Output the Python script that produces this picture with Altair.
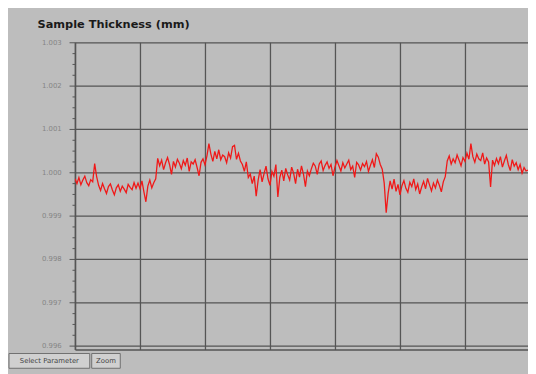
import altair as alt
import pandas as pd

# deviation from 1.000 mm, in units of 0.0001 mm left to right
dev_e4 = [
    -1.5, -2.6, -1.2, -2.9, -1.8, -0.9, -2.4, -3.1, -1.7, -2.2, 2.0, -1.0,
    -3.0, -4.2, -2.6, -3.8, -4.9, -3.3, -2.7, -4.1, -5.2, -3.6, -2.9, -4.4, -3.2, -3.9, -4.7, -2.8, -3.5, -4.0, -2.4, -3.7,
    -2.5, -3.8, -2.0, -4.5, -6.8, -3.2, -1.8, -3.6, -2.4, -1.5,
    3.2, 1.5, 2.8, 0.6, 2.2, 3.4, 1.8, -0.5, 2.5, 1.2, 3.0, 2.1, 0.8, 2.7, 1.6, 3.3, 0.2, 2.4, 1.9, 2.9, 1.1, -0.8, 2.3, 3.1, 1.7,
    3.8, 6.6, 4.2, 2.5, 4.8, 3.1, 5.2, 2.9, 4.0, 3.6, 2.2, 4.5, 3.3, 5.9, 6.2, 3.0, 4.4, 2.6,
    1.8, 0.2, 2.4, -1.2, -0.4, -2.6, -0.9,
    -5.5, -1.8, 0.6, -2.2, -0.3, 1.4, -1.5, -3.0, 0.2, -0.9, 1.8, -5.7, -1.2, 0.5, -2.0, 0.9, -0.6, -1.8, 1.2, -0.2, -2.6, 0.7, -1.1, 1.5, -0.4, -3.3, 0.3, -0.8,
    0.8, 2.1, 1.4, -0.5, 1.9, 2.6, 0.4, 1.6, 2.4, 0.9, 1.8, -0.8, 1.2, 2.7, 1.5, 0.3, 2.2, 1.0, 1.9, 2.8, 0.6, 1.4, -1.2, 2.3, 1.7, 0.5, 2.0, 1.3, 2.5, 0.2, 1.6, 2.9, 1.1, 4.3, 3.5, 1.8, 0.7,
    -2.5, -9.3, -4.8, -2.0, -3.9, -1.6, -4.4, -2.8, -5.2, -3.1, -1.9, -3.7, -4.6, -2.3, -3.3, -1.5, -4.0, -2.7, -5.0, -3.4, -2.1, -3.8, -1.4, -2.9, -4.3, -2.5, -3.6, -1.8, -3.0, -4.5, -2.2, -1.0,
    2.6, 3.8, 1.9, 3.1, 2.2, 4.0, 2.8, 1.5, 3.4, 2.5, 4.4, 3.0, 6.6, 3.6, 2.3, 4.2, 3.1, 2.7, 4.5, 1.9, 3.3, 2.4, -3.4, 2.8, 1.6, 3.2, 2.0, 3.6, 1.2, 2.6, 3.9, 1.8, 0.4, 2.9, 1.4, 2.2, 0.6, 1.8, -0.2, 1.1, 0.3, 0.5,
]
sample = list(range(len(dev_e4)))
thickness_mm = [1.0 + d / 10000.0 for d in dev_e4]

y_ticks = [round(0.996 + k * 0.00025, 5) for k in range(29)]
x_ticks = [0, 33, 66, 99, 132, 165, 198]

title_text = ["Sample Thickness (mm)"]
button_labels = ["Select Parameter", "Zoom"]

df = pd.DataFrame({"sample": sample, "thickness": thickness_mm})

is_major = "abs(datum.value*1000 - round(datum.value*1000)) < 0.01"

line = alt.Chart(df).mark_line(color="#f01818", strokeWidth=1.3, clip=True).encode(
    x=alt.X("sample:Q", scale=alt.Scale(domain=[0, 230], nice=False, zero=False),
            axis=alt.Axis(values=x_ticks, labels=False, ticks=False, title=None,
                          grid=True, gridColor="#555555", gridWidth=1.3,
                          domainColor="#555555", domainWidth=1.5)),
    y=alt.Y("thickness:Q", scale=alt.Scale(domain=[0.995909, 1.003], nice=False, zero=False),
            axis=alt.Axis(values=y_ticks, title=None, grid=True,
                          gridColor="#555555", gridWidth=1.3,
                          gridOpacity={"condition": {"test": is_major, "value": 1}, "value": 0},
                          tickSize={"condition": {"test": is_major, "value": 6}, "value": 3},
                          tickColor="#555555",
                          labelExpr=is_major + " ? format(datum.value, '.3f') : ''",
                          labelFontSize=7, labelColor="#858585", labelPadding=8,
                          labelFont="DejaVu Sans",
                          domainColor="#555555", domainWidth=1.5)),
)

title_df = pd.DataFrame({"t": title_text})
title = alt.Chart(title_df).mark_text(
    align="left", baseline="middle", fontSize=11.5, fontWeight="bold",
    font="DejaVu Sans", color="#1a1a1a"
).encode(text="t:N", x=alt.value(-38), y=alt.value(-18))

b1 = alt.Chart(pd.DataFrame({"t": [button_labels[0]]})).mark_rect(
    fill="#d0d0d0", stroke="#707070", strokeWidth=1
).encode(x=alt.value(-67), x2=alt.value(15), y=alt.value(316), y2=alt.value(331))
b2 = alt.Chart(pd.DataFrame({"t": [button_labels[1]]})).mark_rect(
    fill="#d0d0d0", stroke="#707070", strokeWidth=1
).encode(x=alt.value(17), x2=alt.value(46), y=alt.value(316), y2=alt.value(331))
t1 = alt.Chart(pd.DataFrame({"t": [button_labels[0]]})).mark_text(
    fontSize=7, font="DejaVu Sans", color="#444444", baseline="middle", align="center"
).encode(text="t:N", x=alt.value(-26), y=alt.value(323.5))
t2 = alt.Chart(pd.DataFrame({"t": [button_labels[1]]})).mark_text(
    fontSize=7, font="DejaVu Sans", color="#444444", baseline="middle", align="center"
).encode(text="t:N", x=alt.value(31.5), y=alt.value(323.5))

chart = alt.layer(line, title, b1, b2, t1, t2).properties(
    width=460, height=312,
    autosize=alt.AutoSizeParams(type="none"),
    padding={"left": 68, "top": 32, "right": 0, "bottom": 22},
    background="#bdbdbd",
).configure_view(stroke=None, fill="#bdbdbd")

chart.save("out.html", embed_options={"renderer": "svg", "actions": False})
